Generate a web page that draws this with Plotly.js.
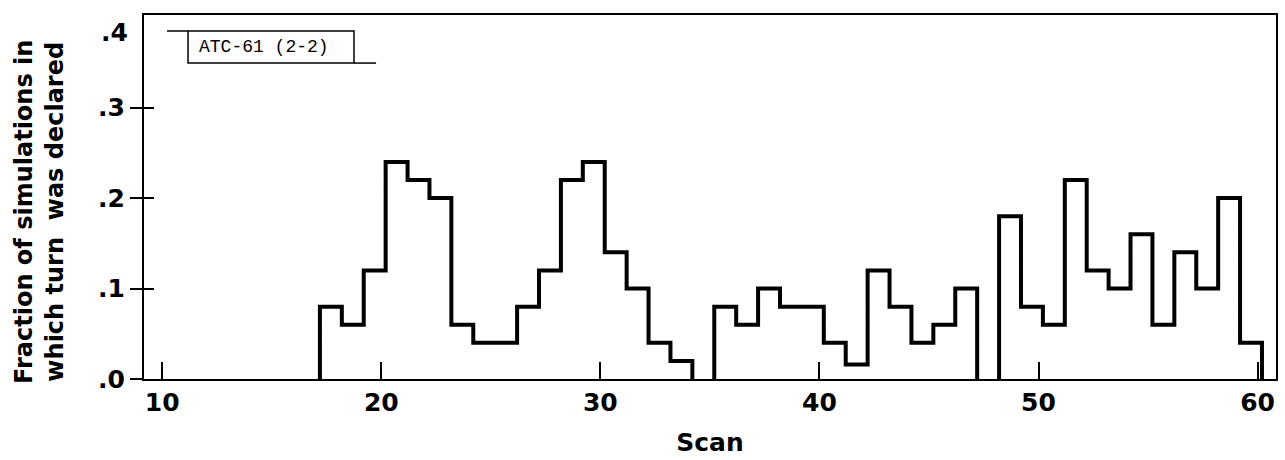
<!DOCTYPE html>
<html>
<head>
<meta charset="utf-8">
<script src="https://cdn.plot.ly/plotly-3.0.1.min.js"></script>
<style>
  html, body { margin: 0; padding: 0; background: #ffffff; }
  #chart { width: 1285px; height: 460px; }
</style>
</head>
<body>
<div id="chart"></div>
<script>
// ---- data ----
const scans = [18, 19, 20, 21, 22, 23, 24, 25, 26, 27, 28, 29, 30, 31, 32, 33, 34, 35, 36, 37, 38, 39,
               40, 41, 42, 43, 44, 45, 46, 47, 48, 49, 50, 51, 52, 53, 54, 55, 56, 57, 58, 59, 60];
const fraction = [0.08, 0.06, 0.12, 0.24, 0.22, 0.20, 0.06, 0.04, 0.04, 0.08, 0.12, 0.22, 0.24, 0.14,
                  0.10, 0.04, 0.02, 0.00, 0.08, 0.06, 0.10, 0.08, 0.08, 0.04, 0.016, 0.12, 0.08, 0.04,
                  0.06, 0.10, 0.00, 0.18, 0.08, 0.06, 0.22, 0.12, 0.10, 0.16, 0.06, 0.14, 0.10, 0.20, 0.04];
const xTickVals = [10, 20, 30, 40, 50, 60];
const xTickText = ['10', '20', '30', '40', '50', '60'];
const yTickVals = [0, 0.1, 0.2, 0.3];
const yTickText = ['.0', '.1', '.2', '.3'];
const yTopLabel = '.4';
const yTitleLines = ['Fraction of simulations in', 'which turn  was declared'];
const boxLabel = 'ATC-61 (2-2)';

// ---- build the histogram outline (each bin one scan wide) ----
const binShift = -0.8;   // left edge of a scan's bin relative to the scan number
const px = [], py = [];
let open = false;
for (let i = 0; i < scans.length; i++) {
  const x0 = scans[i] + binShift, x1 = x0 + 1, v = fraction[i];
  if (v > 0) {
    if (!open) { px.push(x0); py.push(0); open = true; }
    px.push(x0, x1); py.push(v, v);
  } else if (open) {
    px.push(x0); py.push(0); px.push(null); py.push(null); open = false;
  }
}
if (open) { px.push(px[px.length - 1]); py.push(0); }

const trace = {
  x: px, y: py, type: 'scatter', mode: 'lines',
  line: { color: '#000000', width: 4 },
  connectgaps: false, hoverinfo: 'skip', showlegend: false
};
const traceInner = { x: [null], y: [null], yaxis: 'y2', type: 'scatter', mode: 'lines', showlegend: false };

const tickFont = { family: 'DejaVu Sans, sans-serif', size: 25, color: '#000000', weight: 'bold' };
const yRange = [0, 0.4024];

const layout = {
  width: 1285, height: 460,
  margin: { l: 144, r: 9, t: 15, b: 81 },
  paper_bgcolor: '#ffffff', plot_bgcolor: '#ffffff',
  showlegend: false,
  xaxis: {
    range: [9.17, 60.84], tickvals: xTickVals, ticktext: xTickText,
    ticks: 'inside', ticklen: 17, tickwidth: 2, tickcolor: '#000000',
    showline: true, linewidth: 2, linecolor: '#000000', mirror: true,
    showgrid: false, zeroline: false, tickfont: tickFont,
    title: { text: 'Scan', font: { family: 'DejaVu Sans, sans-serif', size: 25, color: '#000000', weight: 'bold' }, standoff: 17 }
  },
  yaxis: {
    range: yRange, tickvals: yTickVals, ticktext: yTickText,
    ticks: 'outside', ticklen: 12, tickwidth: 2, tickcolor: '#000000',
    showline: true, linewidth: 2, linecolor: '#000000', mirror: true,
    showgrid: false, zeroline: false, tickfont: tickFont
  },
  yaxis2: {
    range: yRange, tickvals: yTickVals, overlaying: 'y', side: 'left', anchor: 'x',
    ticks: 'inside', ticklen: 10, tickwidth: 2, tickcolor: '#000000',
    showticklabels: false, showline: false, showgrid: false, zeroline: false
  },
  shapes: [
    { type: 'rect', xref: 'paper', yref: 'paper', x0: 0.0389, x1: 0.1855, y0: 0.868, y1: 0.956,
      line: { color: '#000000', width: 1.5 }, fillcolor: 'rgba(0,0,0,0)' },
    { type: 'line', xref: 'paper', yref: 'paper', x0: 0.0203, x1: 0.0389, y0: 0.956, y1: 0.956,
      line: { color: '#000000', width: 1.5 } },
    { type: 'line', xref: 'paper', yref: 'paper', x0: 0.1855, x1: 0.205, y0: 0.868, y1: 0.868,
      line: { color: '#000000', width: 1.5 } }
  ],
  annotations: [
    { text: boxLabel, xref: 'paper', yref: 'paper', x: 0.0468, y: 0.912, xanchor: 'left', yanchor: 'middle',
      showarrow: false, font: { family: 'Liberation Mono, Courier New, monospace', size: 18, color: '#000000' } },
    { text: yTopLabel, xref: 'paper', yref: 'y', x: 0, y: 0.3826, xanchor: 'right', yanchor: 'middle',
      xshift: -14, showarrow: false, font: tickFont },
    { text: yTitleLines.join('<br>'), xref: 'paper', yref: 'paper', x: -0.0919, y: 0.459,
      xanchor: 'center', yanchor: 'middle', textangle: -90, showarrow: false,
      font: { family: 'DejaVu Sans, sans-serif', size: 24, color: '#000000', weight: 'bold' } }
  ]
};

Plotly.newPlot('chart', [trace, traceInner], layout, { staticPlot: true, displayModeBar: false });
</script>
</body>
</html>
